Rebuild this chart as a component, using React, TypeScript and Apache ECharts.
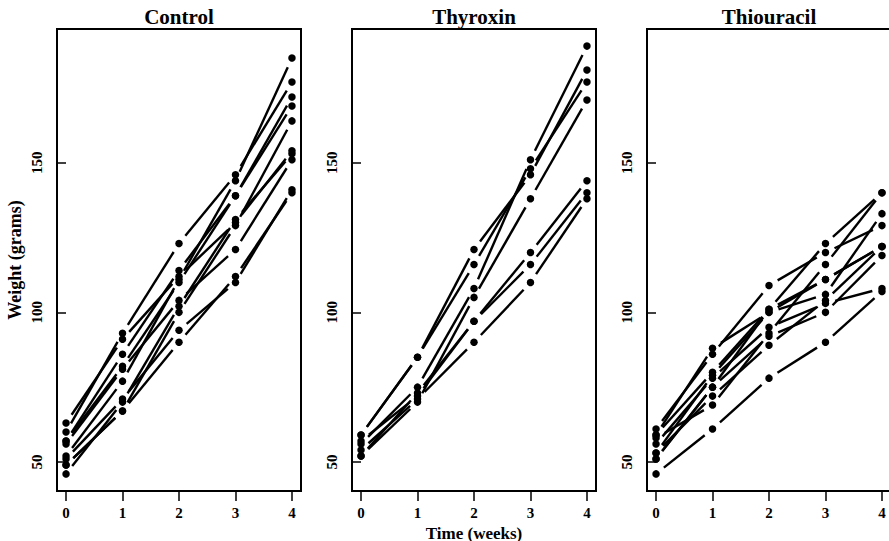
import React, { useEffect, useRef } from "react";
import * as echarts from "echarts";

const weeks = [0, 1, 2, 3, 4];
const groupNames = ["Control", "Thyroxin", "Thiouracil"];
const controlWeights = [
  [57, 86, 114, 139, 172],
  [60, 93, 123, 146, 177],
  [52, 77, 111, 144, 185],
  [49, 67, 100, 129, 164],
  [56, 81, 104, 121, 151],
  [46, 70, 102, 131, 153],
  [51, 71, 94, 110, 141],
  [63, 91, 112, 130, 154],
  [49, 67, 90, 112, 140],
  [57, 82, 110, 139, 169],
];
const thyroxinWeights = [
  [59, 85, 121, 146, 181],
  [54, 71, 90, 110, 138],
  [56, 75, 108, 151, 189],
  [59, 85, 116, 148, 177],
  [57, 72, 97, 120, 144],
  [52, 73, 97, 116, 140],
  [52, 70, 105, 138, 171],
];
const thiouracilWeights = [
  [61, 86, 109, 120, 129],
  [59, 80, 101, 111, 122],
  [53, 79, 100, 106, 133],
  [59, 88, 100, 111, 122],
  [51, 75, 101, 123, 140],
  [51, 75, 92, 100, 119],
  [56, 78, 95, 103, 108],
  [58, 69, 93, 116, 140],
  [46, 61, 78, 90, 107],
  [53, 72, 89, 104, 122],
];
const xTickValues = [0, 1, 2, 3, 4];
const yTickValues = [50, 100, 150];

const FONT = "Liberation Serif";

export default function App() {
  const ref = useRef<HTMLDivElement>(null);
  useEffect(() => {
    if (!ref.current) return;
    const chart = echarts.init(ref.current, null, { renderer: "svg" });
    const groups = [controlWeights, thyroxinWeights, thiouracilWeights];
    const lefts = [57, 352, 647];
    const W = 244;
    const grids = lefts.map((l) => ({
      left: l,
      top: 29,
      width: W,
      height: 462,
      containLabel: false,
      outerBoundsMode: "none",
      show: true,
      borderColor: "#000",
      borderWidth: 2,
      backgroundColor: "transparent",
    }));
    const xAxes = lefts.map((_, i) => ({
      type: "value",
      gridIndex: i,
      min: -0.16,
      max: 4.16,
      splitLine: { show: false },
      axisLine: { show: false },
      axisTick: {
        show: true,
        length: 10,
        customValues: xTickValues,
        lineStyle: { color: "#000", width: 1.5 },
      },
      axisLabel: {
        customValues: xTickValues,
        margin: 14,
        color: "#000",
        fontFamily: FONT,
        fontWeight: "bold",
        fontSize: 15,
      },
      name: i === 1 ? "Time (weeks)" : "",
      nameLocation: "middle",
      nameGap: 29,
      nameTextStyle: { color: "#000", fontFamily: FONT, fontWeight: "bold", fontSize: 17 },
    }));
    const yAxes = lefts.map((_, i) => ({
      type: "value",
      gridIndex: i,
      min: 40.28,
      max: 194.72,
      splitLine: { show: false },
      axisLine: { show: false },
      axisTick: {
        show: true,
        length: 10,
        customValues: yTickValues,
        lineStyle: { color: "#000", width: 1.5 },
      },
      axisLabel: {
        customValues: yTickValues,
        rotate: 90,
        margin: 13,
        color: "#000",
        fontFamily: FONT,
        fontWeight: "bold",
        fontSize: 15,
      },
      name: i === 0 ? "Weight (grams)" : "",
      nameLocation: "middle",
      nameRotate: 90,
      nameGap: 33,
      nameTextStyle: { color: "#000", fontFamily: FONT, fontWeight: "bold", fontSize: 18 },
    }));
    const series: any[] = [];
    groups.forEach((g, gi) => {
      const segs: number[][] = [];
      const pts: number[][] = [];
      g.forEach((rat) => {
        rat.forEach((w, k) => {
          pts.push([weeks[k], w]);
          if (k < rat.length - 1) segs.push([weeks[k], w, weeks[k + 1], rat[k + 1]]);
        });
      });
      series.push({
        type: "custom",
        xAxisIndex: gi,
        yAxisIndex: gi,
        dimensions: ["x1", "y1", "x2", "y2"],
        encode: { x: [0, 2], y: [1, 3] },
        data: segs,
        silent: true,
        renderItem: (_p: any, api: any) => {
          const a = api.coord([api.value(0), api.value(1)]);
          const b = api.coord([api.value(2), api.value(3)]);
          const dx = b[0] - a[0];
          const dy = b[1] - a[1];
          const len = Math.hypot(dx, dy);
          const gap = 10;
          if (len <= 2 * gap) return null;
          const ux = dx / len;
          const uy = dy / len;
          return {
            type: "line",
            shape: {
              x1: a[0] + ux * gap,
              y1: a[1] + uy * gap,
              x2: b[0] - ux * gap,
              y2: b[1] - uy * gap,
            },
            style: { stroke: "#000", lineWidth: 2.4 },
          };
        },
      });
      series.push({
        type: "scatter",
        xAxisIndex: gi,
        yAxisIndex: gi,
        data: pts,
        symbol: "circle",
        symbolSize: 7.5,
        itemStyle: { color: "#000", opacity: 1 },
        silent: true,
      });
    });
    chart.setOption({
      animation: false,
      backgroundColor: "#fff",
      title: groupNames.map((n, i) => ({
        text: n,
        left: lefts[i] + W / 2,
        top: 6,
        padding: 0,
        textAlign: "center",
        textStyle: { color: "#000", fontFamily: FONT, fontWeight: "bold", fontSize: 21 },
      })),
      grid: grids,
      xAxis: xAxes,
      yAxis: yAxes,
      series,
    });
    return () => chart.dispose();
  }, []);
  return (
    <div
      ref={ref}
      style={{ position: "fixed", left: 0, top: 0, width: 889, height: 541 }}
    />
  );
}
